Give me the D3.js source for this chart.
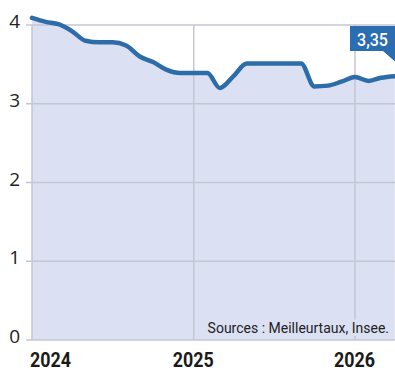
<!DOCTYPE html>
<html><head><meta charset="utf-8">
<script src="https://cdn.jsdelivr.net/npm/d3@7"></script>
<style>html,body{margin:0;padding:0;background:#fff;}svg{display:block;}</style>
</head><body>
<svg id="c" width="395" height="374"></svg>
<script>
const months = ["2024-01","2024-02","2024-03","2024-04","2024-05","2024-06","2024-07","2024-08","2024-09","2024-10","2024-11","2024-12",
"2025-01","2025-02","2025-03","2025-04","2025-05","2025-06","2025-07","2025-08","2025-09","2025-10","2025-11","2025-12",
"2026-01","2026-02","2026-03","2026-04"];
const rates = [4.09,4.04,4.01,3.92,3.80,3.78,3.78,3.74,3.60,3.53,3.43,3.39,
3.39,3.39,3.20,3.35,3.51,3.51,3.51,3.51,3.51,3.22,3.23,3.28,
3.34,3.29,3.33,3.35];
const yTicks = [0,1,2,3,4];
const yearTicks = ["2024","2025","2026"];
const lastLabel = "3,35";
const source = "Sources : Meilleurtaux, Insee.";

const parse = d3.timeParse("%Y-%m");
const data = months.map((m,i)=>({d:parse(m), v:rates[i]}));
const svg = d3.select("#c");
const W=395;
const x = d3.scaleTime().domain([parse("2024-01"), parse("2026-01")]).range([32,355]);
const y = d3.scaleLinear().domain([0,4]).range([340,25]);

svg.append("clipPath").attr("id","clp").append("rect").attr("x",0).attr("y",0).attr("width",W).attr("height",374);
const g = svg.append("g").attr("clip-path","url(#clp)");

// area fill
g.append("path").datum(data)
  .attr("d", d3.area().curve(d3.curveMonotoneX).x(d=>x(d.d)).y0(y(0)).y1(d=>y(d.v)))
  .attr("fill","#dce0f3");

// horizontal grid
g.selectAll(".hg").data(yTicks).join("line")
  .attr("x1",26).attr("x2",W).attr("y1",d=>y(d)).attr("y2",d=>y(d))
  .attr("stroke","#c4c6d3").attr("stroke-width",1.5);
// vertical grid
g.selectAll(".vg").data(yearTicks).join("line")
  .attr("x1",d=>x(parse(d+"-01"))).attr("x2",d=>x(parse(d+"-01")))
  .attr("y1",y(4)).attr("y2",y(0))
  .attr("stroke","#c4c6d3").attr("stroke-width",1.5);

// line
g.append("path").datum(data)
  .attr("d", d3.line().curve(d3.curveMonotoneX).x(d=>x(d.d)).y(d=>y(d.v)))
  .attr("fill","none").attr("stroke","#2c6ca9").attr("stroke-width",4.5)
  .attr("stroke-linejoin","round").attr("stroke-linecap","round");

// y labels
svg.selectAll(".yl").data(yTicks).join("text")
  .attr("x",20).attr("y",d=>y(d)+3)
  .attr("text-anchor","end")
  .attr("font-family","Open Sans, sans-serif")
  .attr("font-weight",400)
  .attr("font-size",19).attr("fill","#222")
  .text(d=>d);

// x labels
svg.selectAll(".xl").data(yearTicks).join("text")
  .attr("x",(d,i)=> i===0 ? 30 : x(parse(d+"-01"))-21)
  .attr("y",367)
  .attr("textLength",41).attr("lengthAdjust","spacingAndGlyphs")
  .attr("font-family","Roboto, sans-serif")
  .attr("font-weight","bold")
  .attr("font-size",21).attr("fill","#1a1a1a")
  .text(d=>d);

// source (with halo knocking out the gridline behind it)
svg.append("text").attr("x",389).attr("y",333)
  .attr("text-anchor","end")
  .attr("font-family","Roboto, sans-serif")
  .attr("font-size",14).attr("fill","#222")
  .attr("stroke","#dce0f3").attr("stroke-width",5).attr("paint-order","stroke")
  .text(source);

// callout
const cg = svg.append("g").attr("clip-path","url(#clp)");
cg.append("path")
  .attr("d","M350,26 L400,26 L400,51 L398,64 L383,51 L350,51 Z")
  .attr("fill","#2b6db1");
cg.append("text").attr("x",372.5).attr("y",46)
  .attr("text-anchor","middle")
  .attr("textLength",31).attr("lengthAdjust","spacingAndGlyphs")
  .attr("font-family","Roboto, sans-serif").attr("font-weight",500)
  .attr("font-size",19).attr("fill","#fff").text(lastLabel);
</script>
</body></html>
